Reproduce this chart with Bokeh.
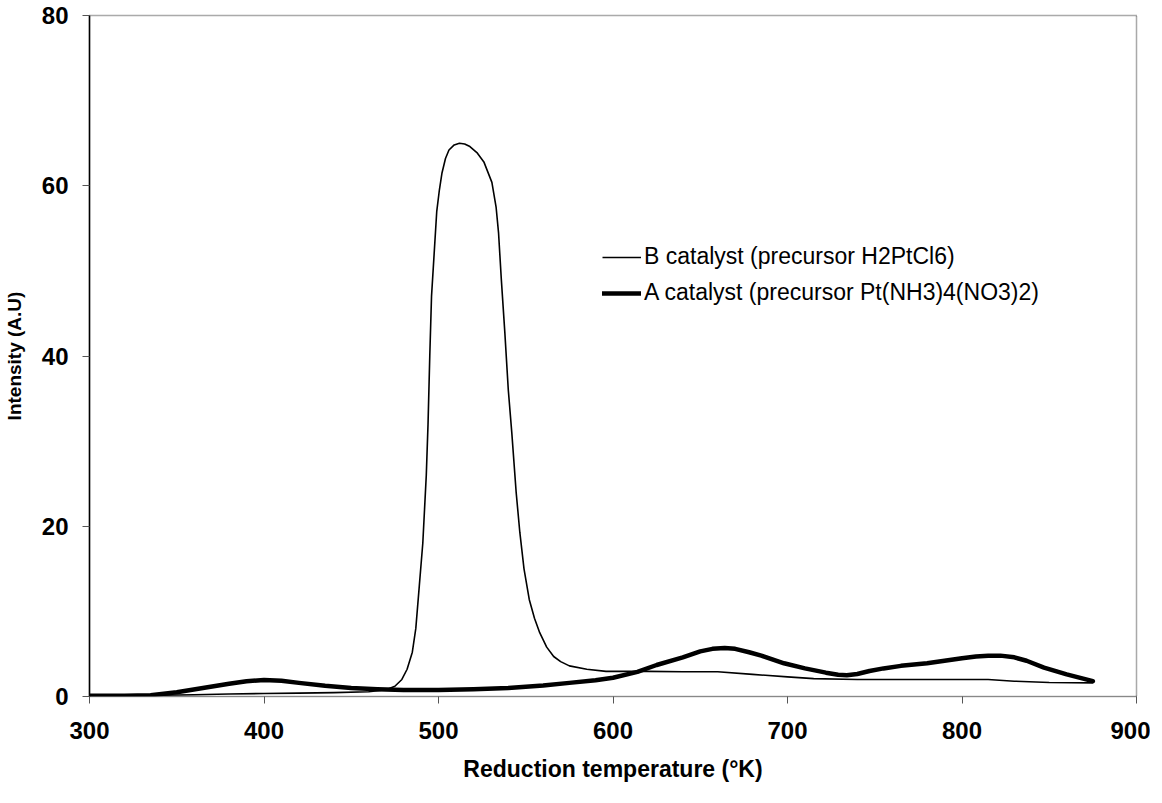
from bokeh.plotting import figure
from bokeh.models import Range1d, FixedTicker, Legend, LegendItem
from bokeh.embed import file_html
from bokeh.resources import INLINE

# B catalyst (precursor H2PtCl6) - thin line
b_temp = [300, 320, 340, 360, 380, 400, 420, 440, 460, 470, 475, 479, 482, 485, 487, 489, 491, 493,
          494, 495, 496, 497.5, 499, 500.5, 502, 504, 506, 509, 512, 515, 518, 522, 526, 530.6, 533,
          534.4, 536, 538, 540, 542, 544.5, 546.6, 549, 552, 555, 558, 562, 566, 570, 575, 585, 596,
          620, 640, 660, 680, 700, 715, 740, 760, 780, 800, 815, 830, 850, 875]
b_int = [0.1, 0.1, 0.15, 0.2, 0.3, 0.35, 0.4, 0.45, 0.55, 0.8, 1.2, 2.0, 3.2, 5.2, 8, 13, 18, 26,
         32, 40, 47, 52, 57, 59.5, 61.5, 63.2, 64.2, 64.8, 65, 64.9, 64.6, 63.9, 62.8, 60.4, 57.5,
         54.5, 49, 42.8, 36, 31, 24, 19.3, 15, 11.4, 9.2, 7.5, 5.8, 4.7, 4.1, 3.6, 3.2, 2.95,
         2.95, 2.9, 2.9, 2.6, 2.3, 2.1, 2.0, 2.0, 2.0, 2.0, 2.0, 1.8, 1.65, 1.6]

# A catalyst (precursor Pt(NH3)4(NO3)2) - thick line
a_temp = [300, 320, 335, 350, 365, 380, 390, 400, 410, 420, 435, 450, 465, 480, 500, 520, 540,
          560, 575, 590, 600, 614, 625, 640, 650, 657, 664, 670, 678, 685, 698, 710, 722, 729, 734,
          740, 747, 755, 765, 780, 790, 800, 808, 815, 822, 830, 837, 847, 860, 875]
a_int = [0.1, 0.1, 0.15, 0.5, 1.0, 1.5, 1.8, 1.95, 1.85, 1.6, 1.25, 1.0, 0.85, 0.75, 0.75, 0.85, 1.0,
         1.3, 1.6, 1.9, 2.2, 2.9, 3.7, 4.6, 5.3, 5.6, 5.7, 5.6, 5.2, 4.8, 3.9, 3.3, 2.8, 2.55, 2.5,
         2.65, 3.0, 3.3, 3.6, 3.9, 4.2, 4.5, 4.7, 4.8, 4.8, 4.6, 4.2, 3.4, 2.6, 1.8]

x_ticks = [300, 400, 500, 600, 700, 800, 900]
y_ticks = [0, 20, 40, 60, 80]
label_b = "B catalyst (precursor H2PtCl6)"
label_a = "A catalyst (precursor Pt(NH3)4(NO3)2)"

p = figure(frame_width=1047, frame_height=681, output_backend="svg", toolbar_location=None,
           x_range=Range1d(300, 900), y_range=Range1d(0, 80),
           min_border_left=85, min_border_top=15, min_border_right=14, min_border_bottom=80)
p.background_fill_color = "white"
p.border_fill_color = "white"
p.grid.visible = False
p.outline_line_color = "#555555"
p.outline_line_dash = "1 1"
p.outline_line_width = 1.5

FONT = "Liberation Sans"
for ax in (p.xaxis[0], p.yaxis[0]):
    ax.major_label_text_font = FONT
    ax.major_label_text_font_style = "bold"
    ax.major_label_text_font_size = "24px"
    ax.major_label_text_color = "black"
    ax.axis_label_text_font = FONT
    ax.axis_label_text_font_style = "bold"
    ax.axis_label_text_color = "black"
    ax.minor_tick_line_color = None
    ax.major_tick_in = 0
    ax.major_tick_out = 7
    ax.major_tick_line_color = "#555555"

p.xaxis.ticker = FixedTicker(ticks=x_ticks)
p.yaxis.ticker = FixedTicker(ticks=y_ticks)
p.xaxis.axis_label = "Reduction temperature (°K)"
p.xaxis.axis_label_text_font_size = "23px"
p.xaxis.axis_line_color = "#666666"
p.xaxis.axis_line_dash = "1 1"
p.xaxis.major_label_standoff = 18
p.xaxis.axis_label_standoff = 14
p.yaxis.axis_label = "Intensity (A.U)"
p.yaxis.axis_label_text_font_size = "19px"
p.yaxis.axis_line_color = "black"
p.yaxis.axis_line_width = 1.5
p.yaxis.major_label_standoff = 14
p.yaxis.axis_label_standoff = 14

rb = p.line(b_temp, b_int, line_color="black", line_width=1.6, line_join="round")
ra = p.line(a_temp, a_int, line_color="black", line_width=4.5, line_join="round", line_cap="round")

legend = Legend(items=[LegendItem(label=label_b, renderers=[rb]),
                       LegendItem(label=label_a, renderers=[ra])],
                location=(513, 390))
legend.label_text_font = FONT
legend.label_text_font_size = "23px"
legend.label_text_color = "black"
legend.glyph_width = 39
legend.glyph_height = 20
legend.label_height = 20
legend.spacing = 9
legend.padding = 0
legend.margin = 0
legend.label_standoff = 3
legend.border_line_alpha = 0
legend.background_fill_alpha = 0
p.add_layout(legend)

open("out.html", "w").write(file_html(p, INLINE))
